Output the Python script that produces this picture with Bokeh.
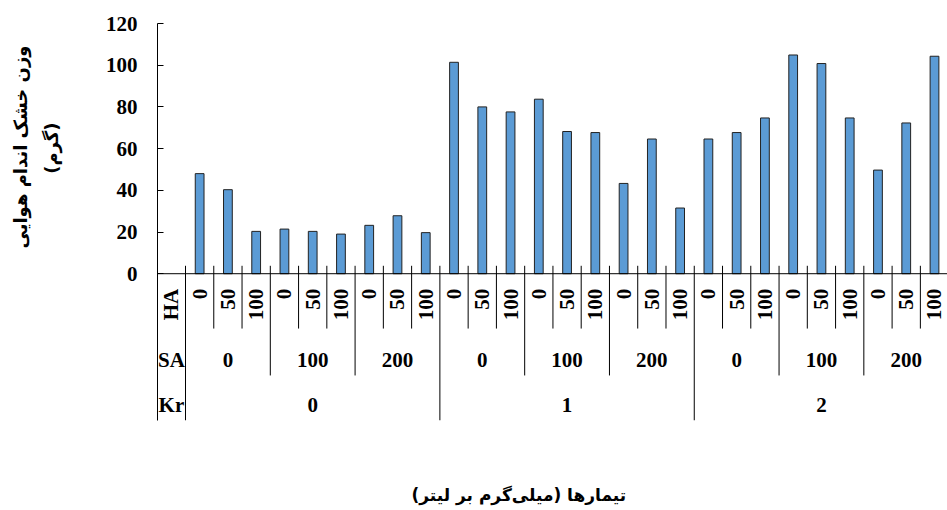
import math
from bokeh.plotting import figure
from bokeh.models import FixedTicker, Span, Title, Range1d
from bokeh.core.properties import value
from bokeh.embed import file_html
from bokeh.resources import INLINE

# ---------------- data ----------------
kr_levels = ["0", "1", "2"]
sa_levels = ["0", "100", "200"]
ha_levels = ["0", "50", "100"]
dry_weight = [48.0, 40.3, 20.3, 21.4, 20.3, 19.0, 23.2, 27.8, 19.7,
              101.4, 80.0, 77.6, 83.7, 68.2, 67.7, 43.3, 64.6, 31.5,
              64.6, 67.7, 74.7, 104.9, 100.8, 74.7, 49.7, 72.3, 104.3]
y_ticks = [0, 20, 40, 60, 80, 100, 120]
row_names = ["HA", "SA", "Kr"]
y_title = "وزن خشک اندام هوایی"
y_unit = "(گرم)"
x_title = "تیمارها (میلی‌گرم بر لیتر)"

# ---------------- layout (table rows, in y-data units) ----------------
HA_TOP = -7.2
HA_LINE = -26.3
SA_Y = -41.6
SA_LINE = -48.8
KR_Y = -63.2
Y_BOTTOM = -70.4
TICK_UP = 3.8
FONT = value("Liberation Serif")
FS = "21px"

n_ha, n_sa, n_kr = len(ha_levels), len(sa_levels), len(kr_levels)
n = n_ha * n_sa * n_kr

p = figure(width=947, height=510, x_range=Range1d(-0.991, 26.96), y_range=Range1d(Y_BOTTOM, 120),
           output_backend="svg", toolbar_location=None, x_axis_location=None,
           min_border_left=157, min_border_right=0, min_border_top=23, min_border_bottom=90)
p.grid.visible = False
p.outline_line_color = None
p.background_fill_color = "white"

# y axis
ax = p.yaxis[0]
ax.ticker = FixedTicker(ticks=y_ticks)
ax.major_tick_in = 6
ax.major_tick_out = 0
ax.minor_tick_in = 0
ax.minor_tick_out = 0
ax.axis_line_color = "black"
ax.major_tick_line_color = "black"
ax.major_label_text_font = "Liberation Serif"
ax.major_label_text_font_style = "bold"
ax.major_label_text_font_size = FS
ax.major_label_text_color = "black"
ax.major_label_standoff = 20

# titles (stacked outward from the frame; blank titles act as spacers)
tstyle = dict(text_font="DejaVu Sans", text_font_style="bold", text_color="black")
p.add_layout(Title(text=" ", text_font_size="10px", standoff=28), "left")
p.add_layout(Title(text=y_unit, align="right", offset=99, standoff=0,
                   text_font_size="18px", **tstyle), "left")
p.add_layout(Title(text=y_title, align="right", offset=22, standoff=15,
                   text_font_size="18px", **tstyle), "left")

p.add_layout(Title(text=" ", text_font_size="10px", standoff=49), "below")
p.add_layout(Title(text=x_title, align="left", offset=254, standoff=0,
                   text_font_size="17px", **tstyle), "below")

# bars
centers = [i + 0.5 for i in range(n)]
p.vbar(x=centers, top=dry_weight, bottom=0, width=0.31,
       fill_color="#5B9BD5", line_color="#222222", line_width=1)

# x axis line
p.add_layout(Span(location=0, dimension="width", line_color="black", line_width=1))

# boundaries
x0s, y0s, x1s, y1s = [], [], [], []
for j in range(n):
    if j % (n_ha * n_sa) == 0:
        low = Y_BOTTOM
    elif j % n_ha == 0:
        low = SA_LINE
    else:
        low = HA_LINE
    x0s.append(j); x1s.append(j); y0s.append(TICK_UP); y1s.append(low)
p.segment(x0=x0s, y0=y0s, x1=x1s, y1=y1s, line_color="black", line_width=1)

# HA row labels
ha_text = [ha_levels[i % n_ha] for i in range(n)]
p.text(x=[-0.5] + centers, y=[HA_TOP] * (n + 1), text=[row_names[0]] + ha_text,
       angle=math.pi / 2, text_align="right", text_baseline="middle",
       text_font=FONT, text_font_style="bold", text_font_size=FS, text_color="black")

# SA row labels
sa_x, sa_t = [-0.5], [row_names[1]]
for g in range(n_sa * n_kr):
    sa_x.append(g * n_ha + n_ha / 2)
    sa_t.append(sa_levels[g % n_sa])
p.text(x=sa_x, y=[SA_Y] * len(sa_x), text=sa_t, text_align="center", text_baseline="middle",
       text_font=FONT, text_font_style="bold", text_font_size=FS, text_color="black")

# Kr row labels
kr_x, kr_t = [-0.5], [row_names[2]]
for k in range(n_kr):
    kr_x.append(k * n_ha * n_sa + n_ha * n_sa / 2)
    kr_t.append(kr_levels[k])
p.text(x=kr_x, y=[KR_Y] * len(kr_x), text=kr_t, text_align="center", text_baseline="middle",
       text_font=FONT, text_font_style="bold", text_font_size=FS, text_color="black")

open("out.html", "w").write(file_html(p, INLINE))
